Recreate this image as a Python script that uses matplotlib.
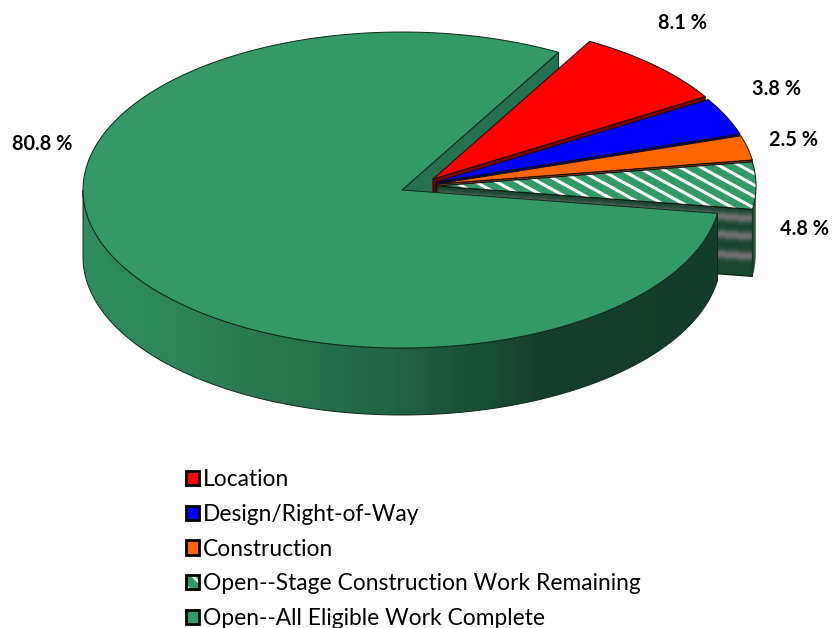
import numpy as np
import matplotlib
matplotlib.use("Agg")
import matplotlib.pyplot as plt
from matplotlib.patches import Polygon, Patch
from matplotlib.colors import LinearSegmentedColormap

# ---- data ----
categories = ["Location", "Design/Right-of-Way", "Construction",
              "Open--Stage Construction Work Remaining", "Open--All Eligible Work Complete"]
shares = [8.1, 3.8, 2.5, 4.8, 80.8]
share_labels = ["8.1 %", "3.8 %", "2.5 %", "4.8 %", "80.8 %"]

# ---- style / geometry ----
GREEN = "#339966"
top_colors = ["#ff0000", "#0000ff", "#ff6600", GREEN, GREEN]
wall_colors = ["#7a0000", "#000070", "#7a3300", "#1d5a3e", "#26704f"]
centers = [(433, 179), (436, 182), (437, 184), (437, 186), (402, 190)]
RX, RY, DEPTH = 319, 158, 67
START = 60.6       # parameter angle where the big slice starts (degrees)
label_pos = [(683, 23), (777, 89), (794, 140), (805, 229), (42, 144)]
OUT = "#10281c"

plt.rcParams["font.family"] = ["Lato", "DejaVu Sans"]
plt.rcParams["hatch.linewidth"] = 2.0
fig = plt.figure(figsize=(8.33, 6.28), dpi=100)
ax = fig.add_axes([0, 0, 1, 1])
ax.axis("off")

# slice angular ranges derived from the shares
big_end = START + shares[4] * 3.6
ang = {4: (START, big_end)}
a = big_end
for i in (3, 2, 1, 0):
    ang[i] = (a, a + shares[i] * 3.6)
    a += shares[i] * 3.6


def rim(i, t0, t1, n=200):
    t = np.radians(np.linspace(t0, t1, n))
    cx, cy = centers[i]
    return np.column_stack([cx + RX * np.cos(t), cy - RY * np.sin(t)])


def top_poly(i):
    return np.vstack([[centers[i]], rim(i, *ang[i])])


def radial_wall(i, t):
    p = rim(i, t, t, 1)[0]
    c = np.array(centers[i], float)
    return np.array([c, p, p + [0, DEPTH], c + [0, DEPTH]])


def gradient_fill(poly, xs, cols, z):
    cmap = LinearSegmentedColormap.from_list("g", list(zip(xs, cols)))
    x0, x1 = poly[:, 0].min(), poly[:, 0].max()
    y0, y1 = poly[:, 1].min(), poly[:, 1].max()
    im = ax.imshow(np.linspace(0, 1, 512)[None, :], cmap=cmap, extent=(x0, x1, y1, y0),
                   aspect="auto", zorder=z, interpolation="bilinear")
    clip = Polygon(poly, closed=True, transform=ax.transData, fc="none", ec="none")
    ax.add_patch(clip)
    im.set_clip_path(clip)


# back radial face of big slice
ax.add_patch(Polygon(radial_wall(4, ang[4][0]), fc=wall_colors[4], ec=OUT, lw=0.7, zorder=1))

# small slices: radial face, top
for z, i in enumerate((0, 1, 2), start=2):
    ax.add_patch(Polygon(radial_wall(i, ang[i][0]), fc=wall_colors[i],
                         ec="#200000", lw=0.7, zorder=z * 2))
    ax.add_patch(Polygon(top_poly(i), fc=top_colors[i], ec="#101010", lw=0.7, zorder=z * 2 + 1))

# stage-construction slice: banded radial wall
w = radial_wall(3, ang[3][0])
c0, p0 = w[0], w[1]
dark = np.array([0x17, 0x45, 0x30]) / 255
grey = np.array([0x70, 0x70, 0x70]) / 255
depths = np.arange(DEPTH + 1)
bands = np.array([max(np.exp(-((d + 0.5 - o) / 4.6) ** 2) for o in (10, 28, 48)) for d in depths[:-1]])
rgb = dark[None, None, :] * (1 - bands[:, None, None]) + grey[None, None, :] * bands[:, None, None]
X = np.column_stack([np.full(DEPTH + 1, c0[0]), np.full(DEPTH + 1, p0[0])])
Y = np.column_stack([c0[1] + depths, p0[1] + depths])
ax.pcolormesh(X, Y, rgb, zorder=10, shading="flat")
ax.add_patch(Polygon(w, fc="none", ec=OUT, lw=0.9, zorder=10.5))

# outer wall of the stage-construction slice (only the part facing the viewer)
wall_top = rim(3, ang[3][0], 360)
outer = np.vstack([wall_top, wall_top[::-1] + [0, DEPTH]])
gradient_fill(outer, [0, 0.6, 1], ["#17432f", "#24503c", "#8a9088"], 10.6)

# stage-construction slice top with slanted white stripes
tp = Polygon(top_poly(3), fc=GREEN, ec="none", zorder=11)
ax.add_patch(tp)
cx3, cy3 = centers[3]
for off in np.arange(-420, 420, 21.0):
    ln, = ax.plot([cx3 + off, cx3 + off + 400], [cy3 - 60, cy3 - 60 + 220], color="white",
                  lw=2.2, zorder=11.5, solid_capstyle="butt")
    ln.set_clip_path(tp)
ax.add_patch(Polygon(top_poly(3), fc="none", ec="#101010", lw=0.7, zorder=12))

# big slice outer wall with horizontal gradient
front = rim(4, 180, ang[4][1], 400)
big_wall = np.vstack([front, front[::-1] + [0, DEPTH]])
gradient_fill(big_wall, [0, 0.2, 0.48, 0.72, 1],
              ["#308c60", "#2c8058", "#216446", "#153f2c", "#143c2a"], 13)
ax.add_patch(Polygon(big_wall, fc="none", ec=OUT, lw=0.7, zorder=14))
# big slice top
ax.add_patch(Polygon(top_poly(4), fc=GREEN, ec=OUT, lw=0.7, zorder=15))

# percentage labels
for lab, (x, y) in zip(share_labels, label_pos):
    ax.text(x, y, lab, ha="center", va="center", fontsize=14.3, fontweight="bold",
            color="black", zorder=20)

# legend
frame = dict(fill=False, ec="black", lw=2)
handles = [
    Patch(fc=top_colors[0], ec="black", lw=2),
    Patch(fc=top_colors[1], ec="black", lw=2),
    Patch(fc=top_colors[2], ec="black", lw=2),
    (Patch(fc=GREEN, ec="white", hatch="\\\\", lw=0.1), Patch(**frame)),
    Patch(fc=GREEN, ec="black", lw=2),
]
ax.legend(handles, categories, loc="upper left", bbox_to_anchor=(186, 469),
          bbox_transform=ax.transData, frameon=False, fontsize=16.4, borderpad=0,
          borderaxespad=0, handlelength=0.58, handleheight=0.58, handletextpad=0.17,
          labelspacing=0.605)

ax.set_xlim(0, 833)
ax.set_ylim(628, 0)
fig.savefig("out.png", dpi=100, facecolor="white")
